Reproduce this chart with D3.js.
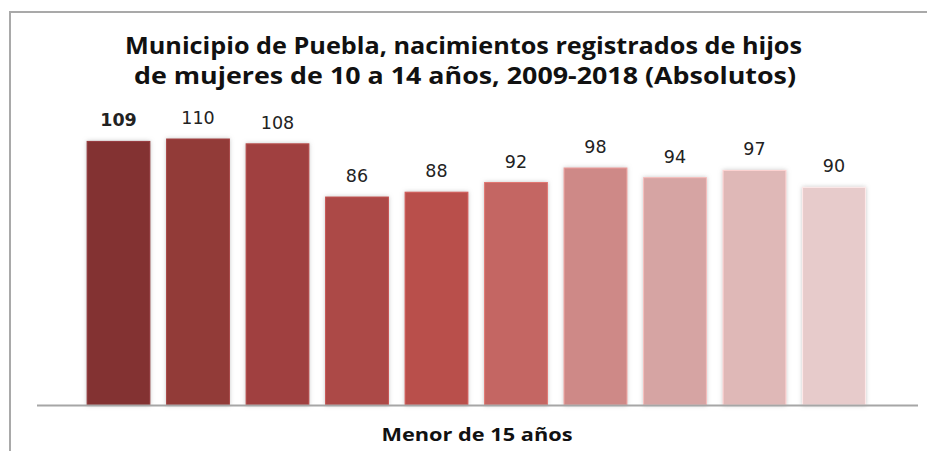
<!DOCTYPE html>
<html>
<head>
<meta charset="utf-8">
<script src="https://cdn.jsdelivr.net/npm/d3@7"></script>
<style>
  body { margin: 0; background: #fff; }
  svg { display: block; }
</style>
</head>
<body>
<div id="chart"></div>
<script>
// Data
var years = ["2009", "2010", "2011", "2012", "2013", "2014", "2015", "2016", "2017", "2018"];
var births = [109, 110, 108, 86, 88, 92, 98, 94, 97, 90];
var barColors = ["#833133", "#923a39", "#a04140", "#ac4846", "#b94f4c",
                 "#c46663", "#ce8987", "#d6a4a3", "#dfb8b7", "#e7cbcb"];
var titleLines = ["Municipio de Puebla, nacimientos registrados de hijos",
                  "de mujeres de 10 a 14 años, 2009-2018 (Absolutos)"];
var categoryLabel = "Menor de 15 años";

var width = 927, height = 451;

var svg = d3.select("#chart").append("svg")
    .attr("width", width)
    .attr("height", height);

// Soft shadow round each bar
var defs = svg.append("defs");
var filter = defs.append("filter")
    .attr("id", "glow")
    .attr("x", "-20%").attr("y", "-10%")
    .attr("width", "140%").attr("height", "120%");
filter.append("feGaussianBlur")
    .attr("in", "SourceAlpha")
    .attr("stdDeviation", 2.2)
    .attr("result", "blur");
filter.append("feFlood").attr("flood-color", "#9a9a9a").attr("flood-opacity", 0.55);
filter.append("feComposite").attr("in2", "blur").attr("operator", "in").attr("result", "shadow");
var merge = filter.append("feMerge");
merge.append("feMergeNode").attr("in", "shadow");
merge.append("feMergeNode").attr("in", "SourceGraphic");

// Outer frame (left and top edges visible)
svg.append("path")
    .attr("d", "M10,451 V12 H927")
    .attr("fill", "none")
    .attr("stroke", "#a9a9a9")
    .attr("stroke-width", 2);

// Title
var title = svg.append("g")
    .attr("font-family", "'Open Sans', 'DejaVu Sans', sans-serif")
    .attr("font-weight", "bold")
    .attr("font-size", 24)
    .attr("fill", "#111");
title.append("text")
    .attr("x", 463.5).attr("y", 54)
    .attr("text-anchor", "middle")
    .attr("textLength", 677)
    .attr("lengthAdjust", "spacingAndGlyphs")
    .text(titleLines[0]);
title.append("text")
    .attr("x", 465).attr("y", 84)
    .attr("text-anchor", "middle")
    .attr("textLength", 662)
    .attr("lengthAdjust", "spacingAndGlyphs")
    .text(titleLines[1]);

// Scales
var x = d3.scaleBand()
    .domain(years)
    .range([78.75, 873.75])
    .paddingInner(0.21)
    .paddingOuter(0.105);

var y = d3.scaleLinear()
    .domain([0, 120])
    .range([405, 114.8]);

// Bars
svg.selectAll("rect.bar")
    .data(births)
    .enter().append("rect")
    .attr("class", "bar")
    .attr("x", function (d, i) { return x(years[i]); })
    .attr("y", function (d) { return y(d); })
    .attr("width", x.bandwidth())
    .attr("height", function (d) { return y(0) - y(d); })
    .attr("fill", function (d, i) { return barColors[i]; })
    .attr("stroke", function (d, i) { return d3.color(barColors[i]).brighter(0.4); })
    .attr("stroke-width", 1)
    .attr("filter", "url(#glow)");

// Value labels
svg.selectAll("text.value")
    .data(births)
    .enter().append("text")
    .attr("class", "value")
    .attr("x", function (d, i) { return x(years[i]) + x.bandwidth() / 2; })
    .attr("y", function (d) { return y(d) - 15; })
    .attr("text-anchor", "middle")
    .attr("font-family", "'DejaVu Sans', sans-serif")
    .attr("font-size", 17.5)
    .attr("font-weight", function (d, i) { return i === 0 ? "bold" : "normal"; })
    .attr("fill", "#222")
    .text(function (d) { return d; });

// Category axis line
svg.append("line")
    .attr("x1", 37).attr("x2", 918)
    .attr("y1", 405.5).attr("y2", 405.5)
    .attr("stroke", "#a6a6a6")
    .attr("stroke-width", 2);

// Category label
svg.append("text")
    .attr("x", 477).attr("y", 441)
    .attr("text-anchor", "middle")
    .attr("font-family", "'Open Sans', 'DejaVu Sans', sans-serif")
    .attr("font-weight", "bold")
    .attr("font-size", 18)
    .attr("textLength", 191)
    .attr("lengthAdjust", "spacingAndGlyphs")
    .attr("fill", "#111")
    .text(categoryLabel);
</script>
</body>
</html>
